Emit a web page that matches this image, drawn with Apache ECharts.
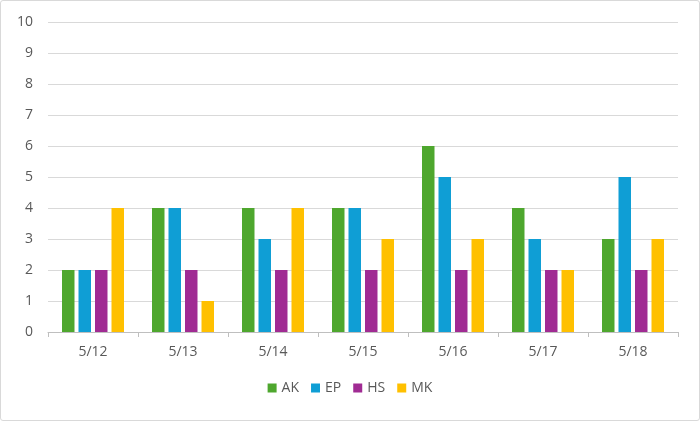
<!DOCTYPE html>
<html>
<head>
<meta charset="utf-8">
<script src="https://cdn.jsdelivr.net/npm/echarts@6/dist/echarts.min.js"></script>
<style>
  html, body { margin: 0; padding: 0; background: #fff; }
  #main { width: 698px; height: 419px; border: 1px solid #d9d9d9; border-radius: 3px; }
</style>
</head>
<body>
<div id="main"></div>
<script>
// days on the x axis
const days = ['5/12', '5/13', '5/14', '5/15', '5/16', '5/17', '5/18']
const ak = [2, 4, 4, 4, 6, 4, 3]
const ep = [2, 4, 3, 4, 5, 3, 5]
const hs = [2, 2, 2, 2, 2, 2, 2]
const mk = [4, 1, 4, 3, 3, 2, 3]

const textColor = '#595959'
const font = '"Open Sans", sans-serif'

const chart = echarts.init(document.getElementById('main'))

const bar = (name, data, color) => ({
  name,
  type: 'bar',
  data,
  barWidth: 12.5,
  barGap: '32%',
  itemStyle: { color },
  emphasis: { disabled: true }
})

chart.setOption({
  animation: false,
  textStyle: { fontFamily: font },
  grid: { left: 47, right: 21, top: 21, bottom: 88 },
  legend: {
    bottom: 20,
    left: 'center',
    itemWidth: 9,
    itemHeight: 9,
    itemGap: 12,
    icon: 'rect',
    textStyle: { color: textColor, fontSize: 14, fontFamily: font }
  },
  xAxis: {
    type: 'category',
    data: days,
    axisLine: { lineStyle: { color: '#bfbfbf' } },
    axisTick: { show: true, length: 5, lineStyle: { color: '#bfbfbf' } },
    axisLabel: { color: textColor, fontSize: 14, margin: 13, fontFamily: font }
  },
  yAxis: {
    type: 'value',
    min: 0,
    max: 10,
    interval: 1,
    axisLine: { show: false },
    axisTick: { show: false },
    axisLabel: { color: textColor, fontSize: 14, margin: 15, fontFamily: font },
    splitLine: { lineStyle: { color: '#d9d9d9' } }
  },
  series: [
    bar('AK', ak, '#4ea72e'),
    bar('EP', ep, '#0f9ed5'),
    bar('HS', hs, '#a02b93'),
    bar('MK', mk, '#ffc000')
  ]
})
</script>
</body>
</html>
